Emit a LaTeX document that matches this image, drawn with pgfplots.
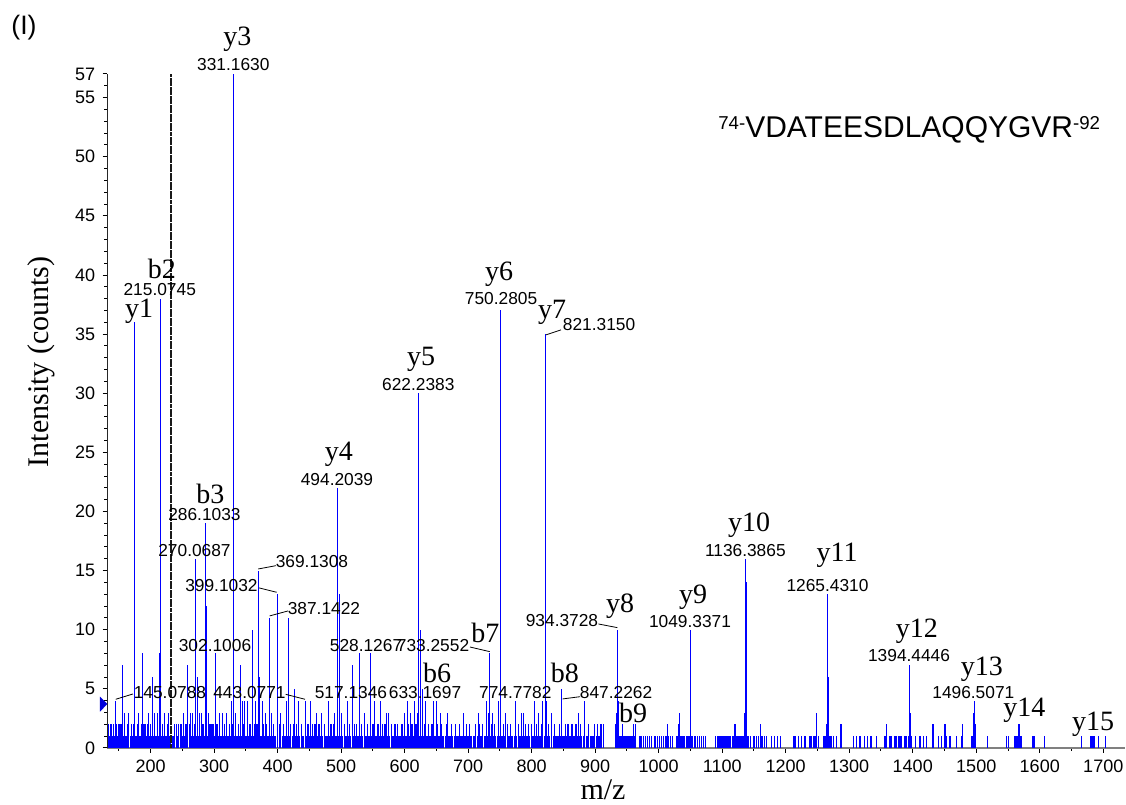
\documentclass[border=0pt]{standalone}
\usepackage{fontspec}
\setmainfont{Liberation Sans}
\newfontfamily\seriffont{Liberation Serif}
\usepackage{pgfplots}
\pgfplotsset{compat=1.18}

\newcommand\ionf{\seriffont\fontsize{21}{21}\selectfont}
\newcommand\mzf{\fontsize{13}{13}\selectfont}

\begin{document}
\begin{tikzpicture}
\path[use as bounding box] (0,0) rectangle (844.5pt,603.75pt);
\begin{axis}[
  at={(80.475pt,42.75pt)}, anchor=south west,
  scale only axis, width=763.3pt, height=505.5pt,
  xmin=131.7, xmax=1734.3, ymin=0, ymax=57,
  axis x line=bottom, axis y line=left,
  axis line style={-},
  x axis line style={-, draw=black!50, line width=1.5pt},
  y axis line style={-, draw=black!85, line width=1.1pt},
  xtick={200,300,...,1700}, minor xtick={150,250,...,1650},
  ytick={0,5,...,55,57}, minor ytick={0,1,...,57},
  tick align=outside,
  major tick length=3.6pt, minor tick length=2.2pt,
  tick style={black, line width=0.75pt},
  /pgf/number format/assume math mode=true,
  /pgf/number format/1000 sep={},
  ticklabel style={font=\fontsize{13.5}{14}\selectfont},
  xticklabel style={yshift=-2pt},
  yticklabel style={xshift=-2pt},
  clip=false,
]
% single-count noise floor
\addplot[ycomb, blue, line width=0.9pt, mark=none] coordinates {
(133.1,1)(134.5,1)(136.3,1)(137.6,1)(140.1,1)(141.8,1)(143.0,1)(145.9,1)(147.2,1)(149.5,1)
(151.0,1)(153.6,1)(154.8,1)(157.4,1)(158.7,1)(161.3,1)(163.9,1)(165.1,1)(167.6,1)(169.0,1)
(171.2,1)(174.6,1)(176.8,1)(178.3,1)(181.0,1)(182.2,1)(184.9,1)(187.8,1)(189.0,1)(192.4,1)
(193.9,1)(196.9,1)(198.5,1)(200.7,1)(202.1,1)(204.6,1)(207.9,1)(209.3,1)(211.9,1)(216.3,1)
(217.8,1)(220.4,1)(223.9,1)(225.2,1)(227.9,1)(230.0,1)(231.4,1)(234.4,1)(235.8,1)(238.1,1)
(240.2,1)(242.9,1)(244.1,1)(246.8,1)(249.6,1)(250.8,1)(253.2,1)(256.7,1)(258.0,1)(260.6,1)
(263.3,1)(264.6,1)(267.0,1)(269.1,1)(272.0,1)(274.8,1)(276.1,1)(278.7,1)(281.6,1)(282.9,1)
(285.2,1)(288.9,1)(290.1,1)(292.6,1)(294.0,1)(296.7,1)(299.3,1)(300.6,1)(303.5,1)(305.7,1)
(307.0,1)(310.2,1)(311.5,1)(314.4,1)(317.6,1)(318.8,1)(321.7,1)(323.1,1)(325.4,1)(328.9,1)
(330.2,1)(332.8,1)(335.4,1)(337.0,1)(339.6,1)(342.8,1)(344.1,1)(346.5,1)(349.9,1)(351.2,1)
(353.9,1)(355.3,1)(358.0,1)(361.6,1)(362.8,1)(365.2,1)(367.9,1)(370.3,1)(373.5,1)(374.7,1)
(377.1,1)(379.0,1)(382.4,1)(383.8,1)(386.1,1)(388.6,1)(391.2,1)(392.5,1)(395.4,1)(397.1,1)
(400.3,1)(402.9,1)(404.2,1)(407.0,1)(408.6,1)(411.3,1)(413.0,1)(415.8,1)(419.4,1)(420.7,1)
(423.6,1)(425.1,1)(427.6,1)(430.9,1)(432.0,1)(434.6,1)(436.9,1)(439.7,1)(441.0,1)(444.3,1)
(446.1,1)(448.6,1)(451.0,1)(453.5,1)(455.9,1)(457.1,1)(459.9,1)(462.7,1)(464.0,1)(466.6,1)
(468.0,1)(470.4,1)(473.2,1)(475.5,1)(476.8,1)(479.1,1)(481.9,1)(484.6,1)(486.0,1)(488.3,1)
(491.1,1)(492.4,1)(495.3,1)(498.7,1)(500.0,1)(502.4,1)(504.9,1)(507.2,1)(508.6,1)(511.3,1)
(513.8,1)(515.0,1)(518.5,1)(520.0,1)(522.4,1)(524.8,1)(527.1,1)(529.9,1)(531.1,1)(533.7,1)
(536.4,1)(538.7,1)(540.1,1)(542.6,1)(545.3,1)(546.9,1)(549.4,1)(552.1,1)(553.4,1)(556.0,1)
(558.9,1)(560.2,1)(563.0,1)(565.7,1)(567.0,1)(569.8,1)(572.5,1)(573.8,1)(576.4,1)(578.9,1)
(580.3,1)(583.0,1)(585.6,1)(587.1,1)(589.9,1)(592.4,1)(593.7,1)(596.5,1)(598.1,1)(600.8,1)
(603.3,1)(605.5,1)(607.2,1)(609.1,1)(611.9,1)(613.6,1)(616.8,1)(618.9,1)(621.0,1)(623.4,1)
(626.0,1)(627.4,1)(630.2,1)(631.9,1)(634.8,1)(636.3,1)(639.0,1)(641.5,1)(643.9,1)(646.6,1)
(648.0,1)(650.9,1)(653.6,1)(655.0,1)(657.5,1)(660.3,1)(661.6,1)(664.5,1)(667.2,1)(668.9,1)
(671.3,1)(674.0,1)(675.5,1)(678.4,1)(681.0,1)(682.3,1)(685.1,1)(687.5,1)(689.0,1)(691.8,1)
(694.6,1)(695.9,1)(698.5,1)(701.2,1)(702.7,1)(705.4,1)(707.9,1)(709.3,1)(712.0,1)(714.8,1)
(716.2,1)(719.0,1)(721.4,1)(722.9,1)(725.6,1)(727.9,1)(730.4,1)(732.7,1)(735.2,1)(736.6,1)
(739.3,1)(741.6,1)(743.0,1)(745.9,1)(748.3,1)(749.6,1)(752.4,1)(754.9,1)(756.3,1)(759.0,1)
(761.6,1)(763.1,1)(765.8,1)(768.4,1)(769.7,1)(772.6,1)(775.2,1)(776.5,1)(779.3,1)(781.7,1)
(783.2,1)(785.9,1)(788.5,1)(789.8,1)(792.7,1)(795.2,1)(796.6,1)(799.4,1)(801.8,1)(803.3,1)
(806.0,1)(808.7,1)(810.1,1)(812.9,1)(815.5,1)(816.8,1)(819.7,1)(822.3,1)(824.8,1)(827.3,1)
(828.6,1)(831.2,1)(833.9,1)(835.3,1)(838.1,1)(840.6,1)(842.0,1)(844.8,1)(847.9,1)(849.3,1)
(852.0,1)(854.6,1)(856.1,1)(858.8,1)(861.4,1)(862.7,1)(865.5,1)(868.1,1)(869.6,1)(872.3,1)
(874.8,1)(876.4,1)(879.0,1)(881.5,1)(883.1,1)(885.8,1)(888.3,1)(889.7,1)(892.6,1)(895.0,1)
(896.5,1)(899.2,1)(901.8,1)(903.3,1)(905.9,1)(908.4,1)
(931.5,1)(933.4,1)(935.0,1)(937.3,1)(938.8,1)(940.6,1)(943.9,1)(945.5,1)(947.2,1)(949.0,1)
(951.6,1)(953.3,1)(955.8,1)(957.4,1)(959.0,1)(961.5,1)(963.2,1)(970.6,1)(973.0,1)(975.9,1)
(979.1,1)(982.0,1)(985.4,1)(988.6,1)(994.2,1)(997.6,1)(1001.0,1)(1004.8,1)(1008.0,1)(1011.4,1)
(1015.2,1)(1018.0,1)(1021.3,1)(1028.3,1)(1030.2,1)(1033.8,1)(1036.0,1)(1038.2,1)(1041.0,1)
(1043.7,1)(1046.1,1)(1048.0,1)(1051.2,1)(1053.4,1)(1055.9,1)(1058.3,1)(1061.0,1)(1063.6,1)
(1066.9,1)(1070.2,1)(1073.8,1)(1088.8,1)(1092.1,1)(1095.0,1)(1098.2,1)(1101.3,1)(1104.5,1)
(1107.4,1)(1110.6,1)(1113.2,1)(1116.0,1)(1118.1,1)(1120.3,1)(1122.4,1)(1124.0,1)(1125.9,1)
(1127.8,1)(1129.6,1)(1131.2,1)(1133.0,1)(1134.5,1)(1139.8,1)(1141.5,1)(1144.4,1)(1150.0,1)
(1153.7,1)(1157.0,1)(1162.5,1)(1166.9,1)(1170.3,1)(1177.7,1)(1182.6,1)(1186.5,1)(1191.2,1)
(1212.0,1)(1214.7,1)(1219.9,1)(1225.2,1)(1230.4,1)(1238.3,1)(1240.9,1)(1243.5,1)(1246.2,1)
(1251.4,1)(1259.3,1)(1261.9,1)(1264.0,1)(1268.7,1)(1270.8,1)(1272.4,1)(1275.0,1)(1280.3,1)
(1306.5,1)(1311.8,1)(1317.0,1)(1323.9,1)(1329.1,1)(1334.3,1)(1343.3,1)(1356.4,1)(1364.3,1)
(1366.9,1)(1372.2,1)(1374.8,1)(1377.4,1)(1380.0,1)(1382.7,1)(1387.9,1)(1390.5,1)(1393.2,1)
(1397.4,1)(1403.7,1)(1411.5,1)(1416.8,1)(1422.0,1)(1440.4,1)(1445.7,1)(1453.5,1)(1458.8,1)
(1469.2,1)(1477.1,1)(1492.9,1)(1494.4,1)(1499.2,1)(1517.5,1)(1548.0,1)(1550.6,1)(1561.1,1)
(1562.7,1)(1564.3,1)(1569.0,1)(1570.6,1)(1588.9,1)(1591.0,1)(1607.3,1)(1666.1,1)(1680.8,1)
(1682.4,1)(1684.0,1)(1686.1,1)(1692.4,1)(1703.9,1)
};
% two-count fragments
\addplot[ycomb, blue, line width=0.9pt, mark=none] coordinates {
(134.0,2)(137.5,2)(141.2,2)(146.8,2)(150.1,2)(153.3,2)(156.0,2)(163.2,2)(169.4,2)(172.4,2)
(178.8,2)(185.0,2)(189.6,2)(191.8,2)(194.6,2)(199.8,2)(210.7,2)(218.6,2)(222.3,2)(226.9,2)
(237.4,2)(241.0,2)(244.2,2)(247.9,2)(255.6,2)(261.0,2)(268.4,2)(281.9,2)(283.6,2)(292.2,2)
(295.1,2)(298.2,2)(304.5,2)(308.2,2)(316.0,2)(323.5,2)(328.3,2)(338.2,2)(346.8,2)(356.5,2)
(363.5,2)(367.5,2)(378.0,2)(383.0,2)(390.2,2)(394.0,2)(402.3,2)(409.3,2)(420.8,2)(424.5,2)
(429.8,2)(437.9,2)(447.7,2)(455.2,2)(458.8,2)(465.1,2)(474.0,2)(483.8,2)(487.6,2)(505.8,2)
(513.3,2)(520.8,2)(523.6,2)(532.0,2)(540.9,2)(550.2,2)(557.9,2)(564.8,2)(569.0,2)(579.6,2)
(584.8,2)(588.9,2)(595.9,2)(606.2,2)(611.5,2)(617.8,2)(631.6,2)(637.8,2)(643.0,2)(652.1,2)
(657.9,2)(666.4,2)(674.3,2)(679.6,2)(685.9,2)(697.3,2)(702.0,2)(711.9,2)(717.6,2)(722.9,2)
(736.4,2)(741.8,2)(755.0,2)(761.6,2)(766.4,2)(778.8,2)(790.5,2)(794.4,2)(799.2,2)(807.9,2)
(815.4,2)(826.2,2)(836.2,2)(843.8,2)(852.6,2)(857.0,2)(863.5,2)(869.8,2)(877.2,2)(889.2,2)
(898.8,2)(903.0,2)(909.0,2)(912.6,2)(931.8,2)(942.8,2)(960.1,2)(963.2,2)(1014.1,2)(1031.0,2)
(1119.2,2)(1121.0,2)(1160.1,2)(1248.8,2)(1263.8,2)(1287.1,2)(1359.0,2)(1397.0,2)(1432.0,2)
(1450.9,2)(1478.2,2)(1498.1,2)(1566.4,2)(1567.4,2)
};
% fragment ions and other peaks
\addplot[ycomb, blue, line width=0.75pt, mark=none] coordinates {
(145.08,4)(155.9,7)(159.5,3)(165.8,3)(173.9,15)(175.12,36)(180.5,3)(187.0,8)(196.3,3)
(203.1,6)(205.7,3)(211.0,3)(213.3,8)(215.07,38)(221.5,3)(228.6,3)(251.9,3)(258.4,7)
(262.4,3)(265.6,3)(270.07,16)(273.4,6)(277.6,3)(280.3,3)(286.10,19)(287.6,12)(290.8,3)
(302.10,8)(309.1,3)(312.8,3)(319.6,3)(326.8,4)(331.16,57)(334.3,3)(341.6,7)(344.8,4)
(348.5,4)(352.7,4)(360.0,10)(364.3,4)(369.13,15)(371.7,6)(375.3,4)(380.2,3)(387.14,11)
(389.5,3)(399.10,13)(405.0,3)(414.6,4)(417.5,11)(426.1,5)(432.5,4)(443.08,4)(452.4,4)
(461.3,3)(469.2,3)(479.7,4)(489.2,3)(494.20,22)(497.9,13)(500.7,3)(510.2,4)(517.13,7)
(528.13,8)(537.0,3)(546.2,8)(553.2,4)(561.8,4)(571.0,3)(574.2,3)(599.4,3)(604.4,4)
(609.9,3)(615.4,4)(620.0,3)(622.24,30)(624.8,10)(628.3,5)(633.17,4)(645.3,4)(650.3,4)
(656.0,3)(668.0,3)(693.0,3)(716.0,3)(729.1,4)(731.8,3)(733.26,8)(738.6,3)(747.5,4)
(750.28,37)(751.2,13)(758.0,3)(774.78,4)(784.3,3)(786.9,3)(804.2,4)(810.5,3)(817.3,4)
(821.32,35)(823.6,4)(831.5,3)(847.23,5)(873.5,3)(882.4,4)(932.8,3)(934.37,10)(936.5,4)
(1032.5,3)(1049.34,10)(1050.3,7)(1134.9,3)(1136.39,16)(1137.5,14)(1138.6,5)(1247.7,3)
(1265.43,13)(1266.5,10)(1267.3,6)(1394.44,7)(1396.2,3)(1495.5,3)(1496.51,4)
};
% precursor marker
\addplot[black!90, line width=1.3pt, dash pattern=on 3pt off 0.4pt, mark=none]
  coordinates {(232.5,0) (232.5,57)};
% threshold marker on the intensity axis
\addplot[fill=blue!85!black, draw=none, mark=none]
  coordinates {(120.2,3.07) (131.7,3.72) (120.2,4.34)} -- cycle;

% ion names
\begin{scope}[every node/.style={font=\ionf, inner sep=0pt}]
\node at (axis cs:336.7,59.9) {y3};
\node at (axis cs:217.8,40.52) {b2};
\node at (axis cs:182.0,36.91) {y1};
\node at (axis cs:293.9,21.46) {b3};
\node at (axis cs:496.5,24.87) {y4};
\node at (axis cs:625.7,32.83) {y5};
\node at (axis cs:748.5,40.10) {y6};
\node at (axis cs:832.0,36.80) {y7};
\node at (axis cs:727.2,9.70) {b7};
\node at (axis cs:650.9,6.39) {b6};
\node at (axis cs:852.4,6.32) {b8};
\node at (axis cs:959.5,2.96) {b9};
\node at (axis cs:939.1,12.01) {y8};
\node at (axis cs:1054.0,12.73) {y9};
\node at (axis cs:1142.2,18.87) {y10};
\node at (axis cs:1280.8,16.29) {y11};
\node at (axis cs:1406.3,9.91) {y12};
\node at (axis cs:1508.7,6.67) {y13};
\node at (axis cs:1575.7,3.15) {y14};
\node at (axis cs:1683.9,2.01) {y15};
\end{scope}

% m/z values
\begin{scope}[every node/.style={font=\mzf, inner sep=0pt}]
\node at (axis cs:330.1,57.84) {331.1630};
\node at (axis cs:214.3,38.81) {215.0745};
\node at (axis cs:284.7,19.71) {286.1033};
\node at (axis cs:269.0,16.67) {270.0687};
\node at (axis cs:454.0,15.76) {369.1308};
\node at (axis cs:311.5,13.71) {399.1032};
\node at (axis cs:472.9,11.76) {387.1422};
\node at (axis cs:301.3,8.65) {302.1006};
\node at (axis cs:230.4,4.68) {145.0788};
\node at (axis cs:355.6,4.68) {443.0771};
\node at (axis cs:515.4,4.68) {517.1346};
\node at (axis cs:632.0,4.68) {633.1697};
\node at (axis cs:539.1,8.63) {528.1267};
\node at (axis cs:644.6,8.63) {733.2552};
\node at (axis cs:774.2,4.69) {774.7782};
\node at (axis cs:932.8,4.71) {847.2262};
\node at (axis cs:847.7,10.74) {934.3728};
\node at (axis cs:1049.3,10.68) {1049.3371};
\node at (axis cs:1136.4,16.67) {1136.3865};
\node at (axis cs:1265.8,13.71) {1265.4310};
\node at (axis cs:1394.2,7.78) {1394.4446};
\node at (axis cs:1495.4,4.68) {1496.5071};
\node at (axis cs:493.4,22.73) {494.2039};
\node at (axis cs:621.4,30.71) {622.2383};
\node at (axis cs:751.7,37.99) {750.2805};
\node at (axis cs:906.0,35.79) {821.3150};
\end{scope}

% leader lines
\begin{scope}[black, line width=0.6pt]
\draw (axis cs:369.4,15.14) -- (axis cs:397.3,15.42);
\draw (axis cs:370.6,13.54) -- (axis cs:398.4,13.17);
\draw (axis cs:387.4,11.17) -- (axis cs:416.2,11.59);
\draw (axis cs:144.9,4.12) -- (axis cs:172.1,4.57);
\draw (axis cs:412.6,4.54) -- (axis cs:443.0,4.12);
\draw (axis cs:702.8,8.54) -- (axis cs:733.9,8.15);
\draw (axis cs:848.8,4.15) -- (axis cs:876.1,4.34);
\draw (axis cs:904.9,10.49) -- (axis cs:934.8,10.18);
\draw (axis cs:822.6,34.94) -- (axis cs:846.1,35.36);
\end{scope}

% axis titles, panel tag and peptide
\node[font=\seriffont\fontsize{22.5}{22.5}\selectfont, rotate=90] at (axis cs:27.3,32.66) {Intensity (counts)};
\node[font=\seriffont\fontsize{22.5}{22.5}\selectfont] at (axis cs:912.3,-3.55) {m/z};
\node[font=\fontsize{20}{20}\selectfont, inner sep=0pt] at (axis cs:0.5,60.94) {(I)};
\node[font=\fontsize{22.5}{22.5}\selectfont, inner sep=0pt, anchor=west] at (axis cs:1093.4,52.28)
  {\raisebox{6.1pt}{\fontsize{14}{14}\selectfont 74-}VDATEESDLAQQYGVR\raisebox{6.1pt}{\fontsize{14}{14}\selectfont -92}};
\end{axis}
\end{tikzpicture}
\end{document}
